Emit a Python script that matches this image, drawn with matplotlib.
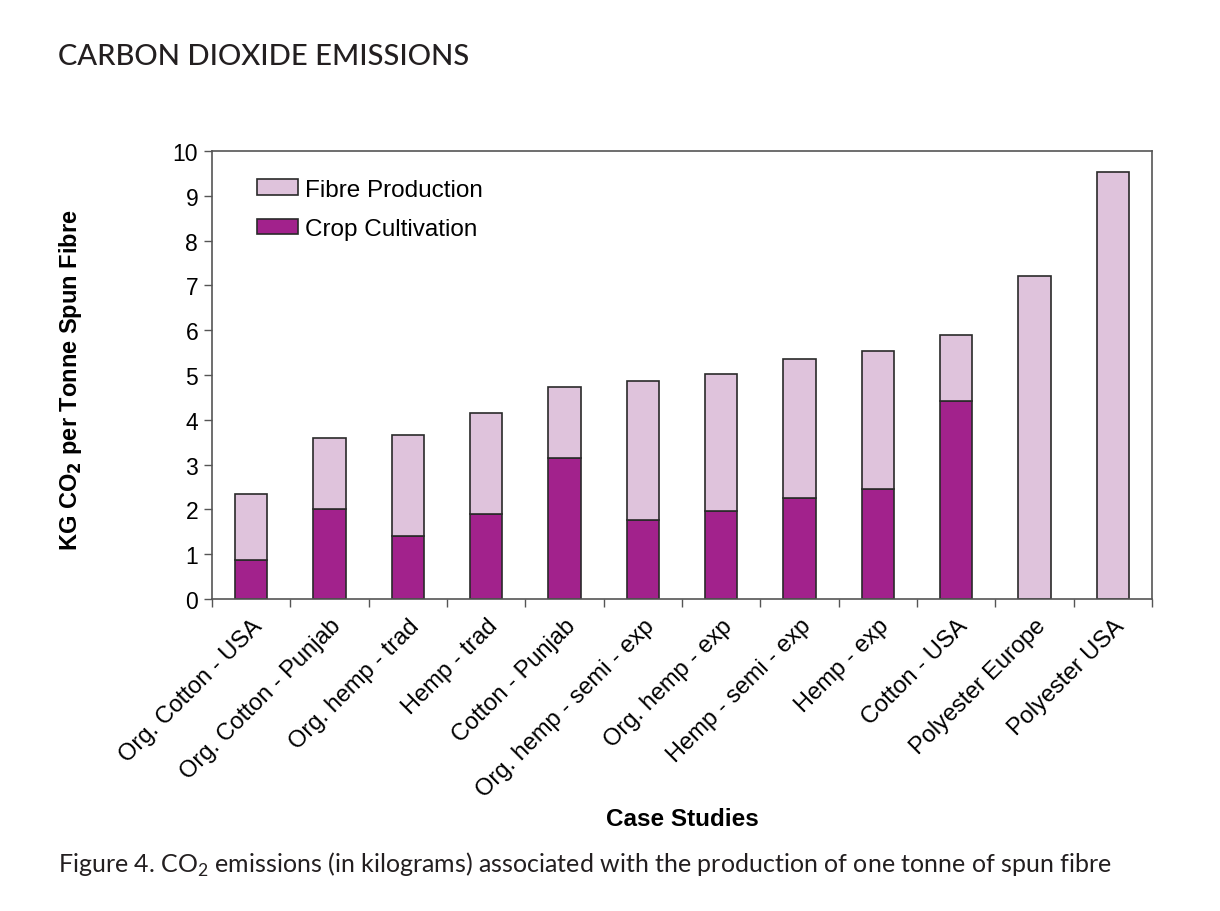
import matplotlib
matplotlib.use("Agg")
import matplotlib.pyplot as plt
import numpy as np

categories = ["Org. Cotton - USA", "Org. Cotton - Punjab", "Org. hemp - trad", "Hemp - trad",
              "Cotton - Punjab", "Org. hemp - semi - exp", "Org. hemp - exp", "Hemp - semi - exp",
              "Hemp - exp", "Cotton - USA", "Polyester Europe", "Polyester USA"]
crop_cultivation = [0.87, 2.00, 1.41, 1.90, 3.15, 1.76, 1.96, 2.25, 2.46, 4.42, 0.0, 0.0]
totals = [2.34, 3.60, 3.66, 4.15, 4.73, 4.87, 5.02, 5.36, 5.54, 5.89, 7.21, 9.53]
fibre_production = [t - c for t, c in zip(totals, crop_cultivation)]

plt.rcParams['font.family'] = ['Liberation Sans', 'DejaVu Sans']

fig = plt.figure(figsize=(12.2, 9.12), dpi=100)
ax = fig.add_axes([0.1738, 0.342, 0.7705, 0.4913])

x = np.arange(len(categories))
w = 0.41
crop_c = "#A2228C"
fibre_c = "#DFC3DC"
edge = "#2a2a2a"
ax.bar(x, crop_cultivation, w, color=crop_c, edgecolor=edge, linewidth=1.2, label="Crop Cultivation")
ax.bar(x, fibre_production, w, bottom=crop_cultivation, color=fibre_c, edgecolor=edge,
       linewidth=1.2, label="Fibre Production")

ax.set_xlim(-0.5, len(categories) - 0.5)
ax.set_ylim(0, 10)
ax.set_yticks(range(0, 11))
ax.tick_params(axis='y', labelsize=16.5, length=6, width=1, color="#555555", pad=4)
ax.set_xticks(x)
ax.set_xticklabels(categories, rotation=45, ha='right', rotation_mode='anchor', fontsize=17)
ax.tick_params(axis='x', which='major', length=0, pad=11)
ax.set_xticks(np.arange(-0.5, len(categories)), minor=True)
ax.tick_params(axis='x', which='minor', length=6, width=1, color="#555555")
for s in ax.spines.values():
    s.set_color("#555555")
    s.set_linewidth(1.2)

ax.set_xlabel("Case Studies", fontsize=17.5, fontweight='bold')
ax.xaxis.set_label_coords(0.5, -0.465)
ax.set_ylabel(r"KG CO$_\mathbf{2}$ per Tonne Spun Fibre", fontsize=17, fontweight='bold')
ax.yaxis.set_label_coords(-0.136, 0.491)

h, l = ax.get_legend_handles_labels()
ax.legend(h[::-1], l[::-1], loc='upper left', bbox_to_anchor=(0.038, 0.96), frameon=False,
          fontsize=17.5, handlelength=1.65, handleheight=0.6, handletextpad=0.3, labelspacing=0.72,
          borderaxespad=0)

fig.text(58/1220, 1 - 57/912, "CARBON DIOXIDE EMISSIONS", fontsize=21, family=['Lato', 'DejaVu Sans'],
         fontweight='medium', va='center', ha='left', color="#231f20")
fig.text(58/1220, 1 - 865/912, r"Figure 4. CO$_\mathregular{2}$ emissions (in kilograms) associated with the production of one tonne of spun fibre",
         fontsize=18, family=['Lato', 'DejaVu Sans'], va='center', ha='left', color="#231f20")

fig.savefig("out.png", dpi=100)
